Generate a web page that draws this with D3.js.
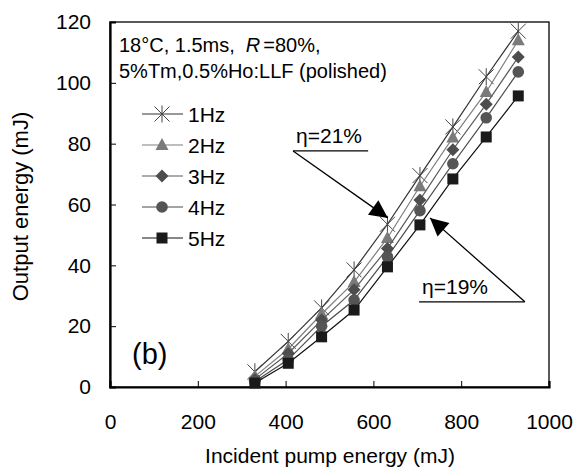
<!DOCTYPE html>
<html><head><meta charset="utf-8">
<script src="https://cdn.jsdelivr.net/npm/d3@7"></script>
<style>body{margin:0;background:#fff}svg{display:block}text{font-family:"Liberation Sans",Arial,sans-serif}</style>
</head><body><div id="chart"></div>
<script>
const pumpEnergy = [330, 406, 482, 556, 632, 706, 781, 857, 930];
const seriesNames = ["1Hz", "2Hz", "3Hz", "4Hz", "5Hz"];
const out1Hz = [5, 15, 26, 38.5, 53.5, 69.5, 85.5, 102, 117];
const out2Hz = [3.5, 12.5, 24, 34.5, 49, 66, 82, 97, 114];
const out3Hz = [2.5, 11, 22, 32, 45.5, 61.5, 78, 93, 108.5];
const out4Hz = [1.8, 9, 20, 28.6, 42.8, 58, 73.4, 88.5, 103.6];
const out5Hz = [1.3, 7.8, 16.5, 25.3, 39.5, 53.3, 68.4, 82.2, 95.7];
const xTicks = [0, 200, 400, 600, 800, 1000];
const yTicks = [0, 20, 40, 60, 80, 100, 120];
const seriesValues = [out1Hz, out2Hz, out3Hz, out4Hz, out5Hz];

const W = 576, H = 467;
const m = {l:110, r:27, t:22, b:80};
const FS = 21;
const svg = d3.select("#chart").append("svg").attr("width", W).attr("height", H);
const x = d3.scaleLinear().domain([0, 1000]).range([m.l, W - m.r]);
const y = d3.scaleLinear().domain([0, 120]).range([H - m.b, m.t]);

const styles = [
  {line:"#333", fill:"none", stroke:"#444", sym:"star"},
  {line:"#7f7f7f", fill:"#7a7a7a", stroke:"#7a7a7a", sym:"tri"},
  {line:"#5a5a5a", fill:"#4d4d4d", stroke:"#4d4d4d", sym:"dia"},
  {line:"#4a4a4a", fill:"#555", stroke:"#555", sym:"circ"},
  {line:"#111", fill:"#1a1a1a", stroke:"#1a1a1a", sym:"sq"}
];

function drawMarker(g, sym, st, cx, cy) {
  if (sym === "star") {
    const r = 7.5;
    const p = `M${cx-r},${cy-r}L${cx+r},${cy+r}M${cx-r},${cy+r}L${cx+r},${cy-r}M${cx},${cy-r-1}L${cx},${cy+r+1}`;
    g.append("path").attr("d", p).attr("stroke", st.stroke).attr("stroke-width", 1).attr("fill", "none");
  } else if (sym === "tri") {
    g.append("path").attr("d", `M${cx},${cy-7}L${cx+6.5},${cy+5}L${cx-6.5},${cy+5}Z`).attr("fill", st.fill);
  } else if (sym === "dia") {
    g.append("path").attr("d", `M${cx},${cy-6.5}L${cx+6.5},${cy}L${cx},${cy+6.5}L${cx-6.5},${cy}Z`).attr("fill", st.fill);
  } else if (sym === "circ") {
    g.append("circle").attr("cx", cx).attr("cy", cy).attr("r", 5.8).attr("fill", st.fill);
  } else {
    g.append("rect").attr("x", cx-5.5).attr("y", cy-5.5).attr("width", 11).attr("height", 11).attr("fill", st.fill);
  }
}

// frame
svg.append("rect").attr("x", x(0)).attr("y", y(120)).attr("width", x(1000)-x(0)).attr("height", y(0)-y(120))
  .attr("fill", "none").attr("stroke", "#000").attr("stroke-width", 1.3);

// axes
const xAxis = svg.append("g").attr("transform", `translate(0,${y(0)})`)
  .call(d3.axisBottom(x).tickValues(xTicks).tickSize(-6).tickPadding(27).tickFormat(d3.format("d")));
const yAxis = svg.append("g").attr("transform", `translate(${x(0)},0)`)
  .call(d3.axisLeft(y).tickValues(yTicks).tickSize(-6).tickPadding(19).tickFormat(d3.format("d")));
[xAxis, yAxis].forEach(a => {
  a.select(".domain").attr("stroke", "#000").attr("stroke-width", 2.2);
  a.selectAll("text").attr("font-size", FS).attr("fill", "#000").style("font-family", "Liberation Sans, Arial, sans-serif");
  a.selectAll(".tick line").attr("stroke", "#000");
});
xAxis.selectAll(".tick line").filter(d => d === 0 || d === 1000).remove();
yAxis.selectAll(".tick line").filter(d => d === 0 || d === 120).remove();

// series (5Hz drawn last)
const line = d3.line().x((d, i) => x(pumpEnergy[i])).y(d => y(d));
seriesValues.forEach((vals, si) => {
  const st = styles[si];
  const g = svg.append("g");
  g.append("path").attr("d", line(vals)).attr("fill", "none").attr("stroke", st.line).attr("stroke-width", 1.2);
  vals.forEach((v, i) => drawMarker(g, st.sym, st, x(pumpEnergy[i]), y(v)));
});

// legend
const lg = svg.append("g");
seriesNames.forEach((n, i) => {
  const ly = 114 + i * 31;
  const st = styles[i];
  lg.append("line").attr("x1", 142).attr("x2", 183).attr("y1", ly).attr("y2", ly).attr("stroke", st.line).attr("stroke-width", 1.2);
  drawMarker(lg, st.sym, st, 162, ly);
  lg.append("text").attr("x", 188).attr("y", ly + 7.5).attr("font-size", FS).text(n);
});

// header text
const t1 = svg.append("text").attr("x", 119).attr("y", 52).attr("font-size", 20);
t1.append("tspan").text("18°C, 1.5ms,");
t1.append("tspan").attr("dx", 11).attr("font-style", "italic").text("R");
t1.append("tspan").attr("dx", 3).text("=80%,");
svg.append("text").attr("x", 119).attr("y", 78).attr("font-size", 20).text("5%Tm,0.5%Ho:LLF (polished)");

svg.append("text").attr("x", 132).attr("y", 364).attr("font-size", 29).text("(b)");

// axis titles
svg.append("text").attr("x", 330).attr("y", 463).attr("text-anchor", "middle").attr("font-size", FS).text("Incident pump energy (mJ)");
svg.append("text").attr("transform", `translate(28,${(y(0)+y(120))/2 + 2}) rotate(-90)`).attr("text-anchor", "middle").attr("font-size", 22).text("Output energy (mJ)");

// annotations
const defs = svg.append("defs");
defs.append("marker").attr("id", "ah").attr("viewBox", "0 0 10 10").attr("refX", 10).attr("refY", 5)
  .attr("markerWidth", 22).attr("markerHeight", 18).attr("markerUnits", "userSpaceOnUse").attr("orient", "auto")
  .append("path").attr("d", "M0,0L10,5L0,10Z").attr("fill", "#000");

function annot(label, ulx1, ulx2, uly, fromX, tipX, tipY) {
  svg.append("text").attr("x", x(ulx1) + 3).attr("y", y(uly) - 8).attr("font-size", FS).text(label);
  svg.append("line").attr("x1", x(ulx1)).attr("x2", x(ulx2)).attr("y1", y(uly)).attr("y2", y(uly)).attr("stroke", "#000").attr("stroke-width", 1.3);
  svg.append("line").attr("x1", x(fromX)).attr("y1", y(uly)).attr("x2", x(tipX)).attr("y2", y(tipY))
    .attr("stroke", "#000").attr("stroke-width", 1.3).attr("marker-end", "url(#ah)");
}
annot("η=21%", 417, 588, 77.6, 417, 633, 55.6);
annot("η=19%", 704, 945, 28, 945, 729, 55.6);
</script></body></html>
